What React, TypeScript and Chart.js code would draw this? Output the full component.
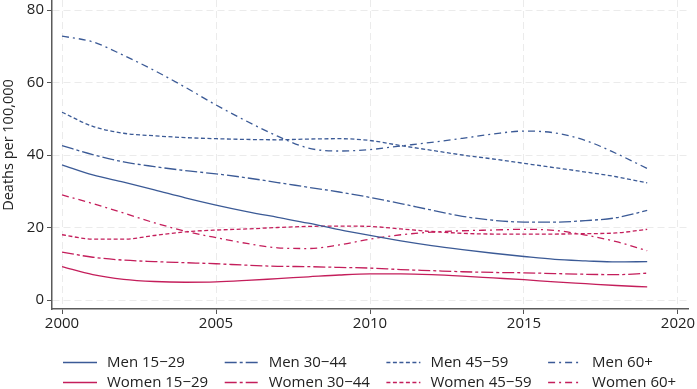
import React, { useEffect, useRef } from "react";
import { Chart, registerables } from "chart.js";

Chart.register(...registerables);

const years = [2000, 2001, 2002, 2003, 2004, 2005, 2006, 2007, 2008, 2009, 2010, 2011, 2012, 2013, 2014, 2015, 2016, 2017, 2018, 2019];
const xTicks = [2000, 2005, 2010, 2015, 2020];
const yTicks = [0, 20, 40, 60, 80];

const men15_29 = [37.3, 34.5, 32.5, 30.4, 28.2, 26.2, 24.4, 22.8, 21.2, 19.4, 17.8, 16.3, 15.0, 13.9, 12.9, 12.0, 11.2, 10.8, 10.5, 10.6];
const men30_44 = [42.6, 40.1, 38.1, 36.8, 35.7, 34.8, 33.7, 32.4, 31.1, 29.8, 28.3, 26.6, 24.8, 23.1, 22.0, 21.5, 21.5, 21.9, 22.7, 24.7];
const men45_59 = [51.8, 47.9, 46.0, 45.3, 44.8, 44.5, 44.3, 44.2, 44.4, 44.5, 44.0, 42.6, 41.3, 40.0, 38.9, 37.7, 36.5, 35.3, 34.0, 32.3];
const men60 = [72.8, 71.2, 67.5, 63.3, 58.7, 53.8, 49.3, 45.2, 41.9, 41.1, 41.5, 42.5, 43.5, 44.6, 45.8, 46.6, 46.1, 44.0, 40.4, 36.3];
const women15_29 = [9.2, 7.0, 5.7, 5.1, 4.9, 5.0, 5.4, 5.9, 6.4, 6.9, 7.2, 7.2, 7.0, 6.6, 6.1, 5.6, 5.0, 4.5, 4.0, 3.6];
const women30_44 = [13.2, 11.8, 11.0, 10.6, 10.3, 10.0, 9.6, 9.3, 9.2, 9.0, 8.8, 8.4, 8.1, 7.8, 7.6, 7.5, 7.3, 7.1, 7.0, 7.4];
const women45_59 = [18.0, 16.8, 16.8, 17.8, 18.8, 19.3, 19.6, 20.0, 20.3, 20.4, 20.3, 19.6, 18.9, 18.4, 18.2, 18.2, 18.2, 18.3, 18.5, 19.5];
const women60 = [29.0, 26.6, 24.0, 21.3, 19.0, 17.2, 15.6, 14.4, 14.2, 15.2, 16.8, 18.0, 18.7, 19.1, 19.3, 19.5, 19.2, 17.9, 16.1, 13.6];

const seriesLabels = ["Men 15\u221229", "Men 30\u221244", "Men 45\u221259", "Men 60+", "Women 15\u221229", "Women 30\u221244", "Women 45\u221259", "Women 60+"];
const seriesValues = [men15_29, men30_44, men45_59, men60, women15_29, women30_44, women45_59, women60];

const BLUE = "#3b5a96";
const RED = "#c41e5b";
const DASHES: number[][] = [[], [12, 3, 3, 3], [4, 2.5], [7, 4, 2, 4]];
const FONT = "'Open Sans', 'Noto Sans', sans-serif";
const TEXT = "#222222";

const legendPlugin = {
  id: "customLegend",
  afterDraw(chart: any) {
    const ctx = chart.ctx;
    ctx.save();
    chart.data.datasets.forEach((ds: any, i: number) => {
      const col = i % 4;
      const row = Math.floor(i / 4);
      const x0 = 63 + col * 161.7;
      const y = 362.5 + row * 20;
      ctx.strokeStyle = ds.borderColor;
      ctx.lineWidth = 1.4;
      ctx.setLineDash(ds.borderDash || []);
      ctx.beginPath();
      ctx.moveTo(x0, y);
      ctx.lineTo(x0 + 34, y);
      ctx.stroke();
      ctx.setLineDash([]);
      ctx.fillStyle = TEXT;
      ctx.font = "15px " + FONT;
      ctx.textAlign = "left";
      ctx.textBaseline = "middle";
      ctx.fillText(ds.label, x0 + 44, y);
    });
    ctx.translate(9, 145);
    ctx.rotate(-Math.PI / 2);
    ctx.textAlign = "center";
    ctx.textBaseline = "middle";
    ctx.font = "14.5px " + FONT;
    ctx.fillStyle = TEXT;
    ctx.fillText("Deaths per 100,000", 0, 0);
    ctx.restore();
  },
};

export default function App() {
  const ref = useRef<HTMLCanvasElement | null>(null);
  useEffect(() => {
    const canvas = ref.current;
    if (!canvas) return;
    const datasets = seriesValues.map((vals, i) => ({
      label: seriesLabels[i],
      data: years.map((yr, j) => ({ x: yr, y: vals[j] })),
      borderColor: i < 4 ? BLUE : RED,
      backgroundColor: i < 4 ? BLUE : RED,
      borderWidth: 1.3,
      borderDash: DASHES[i % 4],
      pointRadius: 0,
      fill: false,
      cubicInterpolationMode: "monotone" as const,
    }));
    const zeroPad = (s: any) => {
      s.paddingTop = 0;
      s.paddingBottom = 0;
      s.paddingLeft = 0;
      s.paddingRight = 0;
    };
    const chart = new Chart(canvas, {
      type: "line",
      data: { datasets },
      options: {
        animation: false,
        responsive: false,
        devicePixelRatio: 1,
        layout: { padding: { left: 0, right: 9, top: 0, bottom: 0 } },
        plugins: { legend: { display: false }, tooltip: { enabled: false } },
        scales: {
          x: {
            type: "linear",
            min: 1999.675,
            max: 2020.325,
            afterBuildTicks: (s: any) => { s.ticks = xTicks.map((v) => ({ value: v })); },
            afterFit: (s: any) => { s.height = 80; zeroPad(s); },
            ticks: { color: TEXT, font: { family: FONT, size: 15 }, padding: 1, callback: (v: any) => String(v) },
            grid: { color: "#ebebeb", lineWidth: 1, tickColor: "#555", tickLength: 5, tickWidth: 1 },
            border: { color: "#5a5a5a", width: 1.5, dash: [7, 4] },
          },
          y: {
            min: -2.48,
            max: 82.76,
            afterBuildTicks: (s: any) => { s.ticks = yTicks.map((v) => ({ value: v })); },
            afterFit: (s: any) => { s.width = 52; zeroPad(s); },
            ticks: { color: TEXT, font: { family: FONT, size: 15 }, padding: 3 },
            grid: { color: "#ebebeb", lineWidth: 1, tickColor: "#555", tickLength: 5, tickWidth: 1 },
            border: { color: "#5a5a5a", width: 1.5, dash: [7, 4] },
          },
        },
      },
      plugins: [legendPlugin],
    });
    return () => chart.destroy();
  }, []);
  return (
    <div style={{ position: "fixed", left: 0, top: 0, width: 697, height: 389, background: "#fff" }}>
      <canvas ref={ref} width={697} height={389} style={{ display: "block" }} />
    </div>
  );
}
